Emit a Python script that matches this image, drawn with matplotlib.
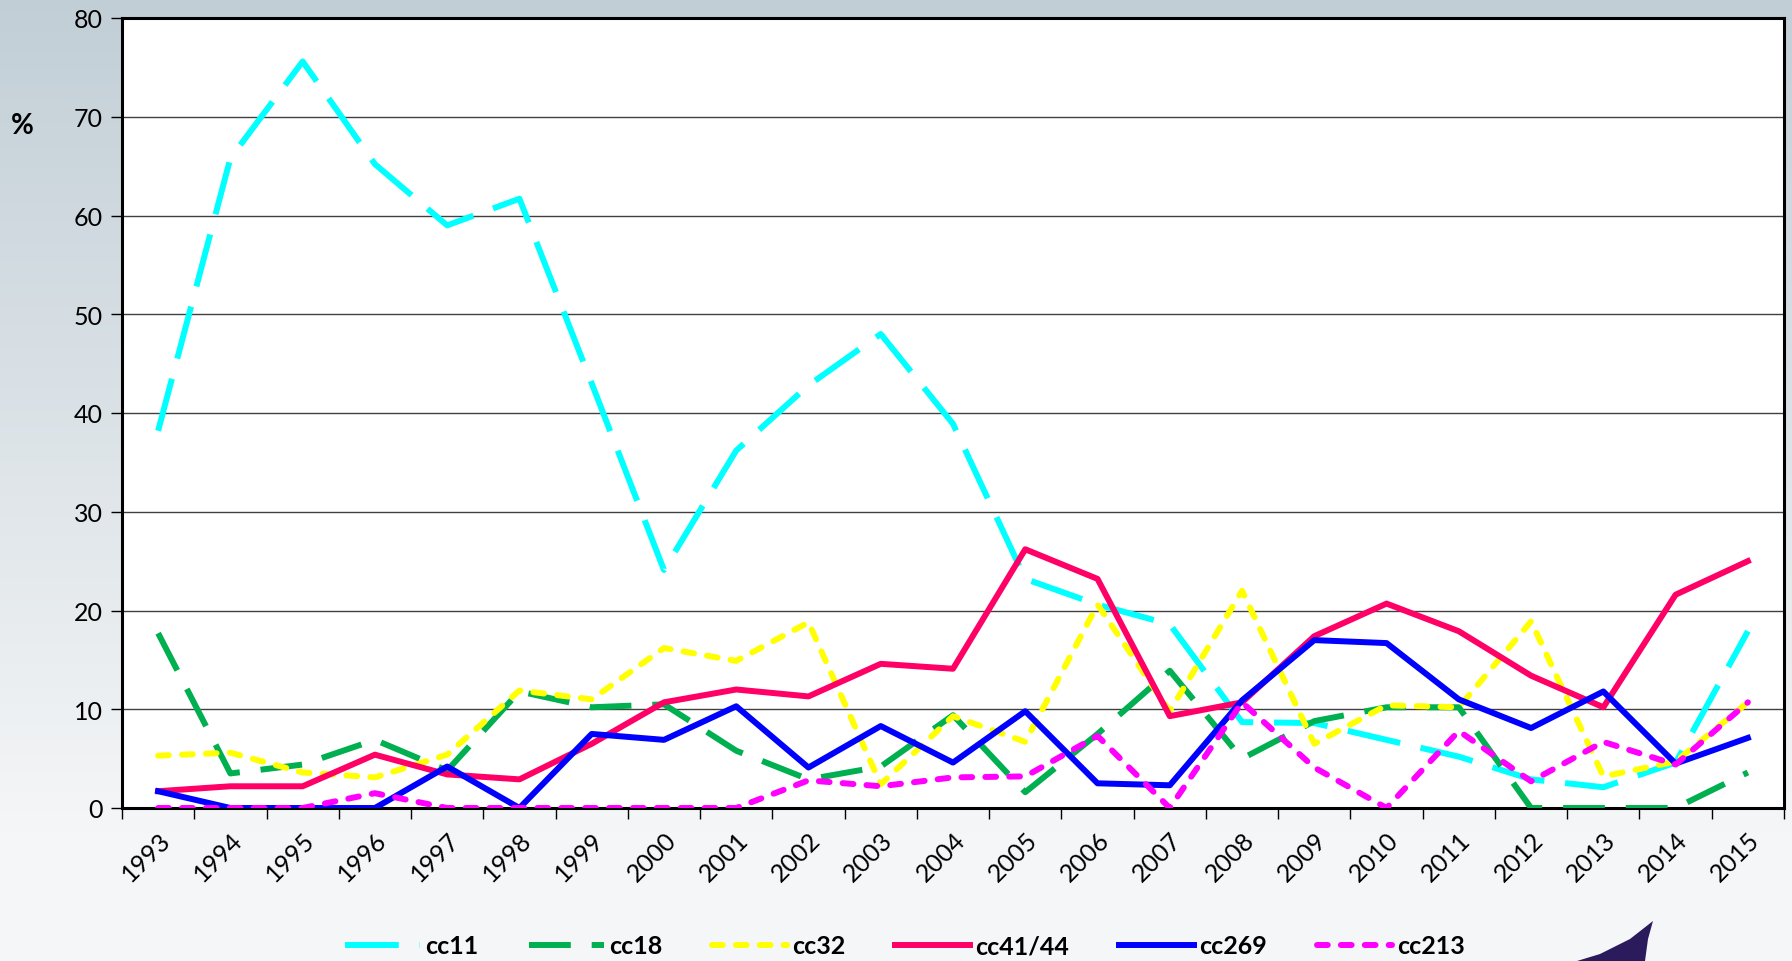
import numpy as np
import matplotlib.pyplot as plt
from matplotlib.patches import Polygon

years = [str(y) for y in range(1993, 2016)]

cc11 = [38.2, 65.8, 75.6, 65.2, 59.0, 61.7, 43.0, 24.1, 36.2, 42.8, 48.0, 38.9,
        23.2, 20.6, 18.6, 8.7, 8.6, 6.9, 5.2, 2.9, 2.1, 4.6, 17.9]
cc18 = [17.7, 3.5, 4.4, 6.9, 3.8, 11.8, 10.2, 10.5, 5.8, 2.9, 4.2, 9.4,
        1.6, 7.5, 13.9, 5.0, 8.8, 10.2, 10.2, 0, 0, 0, 3.6]
cc32 = [5.3, 5.6, 3.6, 3.1, 5.4, 11.9, 11.0, 16.2, 14.9, 18.8, 2.4, 9.3,
        6.7, 20.6, 9.8, 22.0, 6.5, 10.4, 10.2, 18.9, 3.2, 4.7, 10.7]
cc41_44 = [1.7, 2.2, 2.2, 5.4, 3.4, 2.9, 6.5, 10.7, 12.0, 11.3, 14.6, 14.1,
           26.2, 23.2, 9.3, 10.7, 17.4, 20.7, 17.9, 13.4, 10.2, 21.6, 25.0]
cc269 = [1.7, 0, 0, 0, 4.2, 0, 7.5, 6.9, 10.3, 4.1, 8.3, 4.6,
         9.8, 2.5, 2.3, 10.9, 17.0, 16.7, 11.0, 8.1, 11.8, 4.5, 7.1]
cc213 = [0, 0, 0, 1.5, 0, 0, 0, 0, 0, 2.8, 2.2, 3.1,
         3.2, 7.3, 0, 10.7, 4.1, 0, 7.8, 2.7, 6.7, 4.4, 10.7]

plt.rcParams['font.family'] = ['Lato', 'DejaVu Sans']

W, H = 1792, 962
fig = plt.figure(figsize=(W / 100, H / 100), dpi=100)

# background gradient
bg = fig.add_axes([0, 0, 1, 1], zorder=-10)
grad = np.linspace(0, 1, 256).reshape(-1, 1)
top = np.array([0.76, 0.81, 0.84])
bot = np.array([0.96, 0.965, 0.97])
img = top + (bot - top) * np.clip(grad * 1.15, 0, 1)[:, :, None]
bg.imshow(np.repeat(img, 2, axis=1), aspect='auto', extent=[0, 1, 0, 1])
bg.axis('off')

ax = fig.add_axes([122 / W, 1 - 809 / H, (1784 - 122) / W, (809 - 19) / H])
ax.set_facecolor('white')

x = np.arange(len(years))
lw = 4.3
ax.plot(x, cc11, color='#00ffff', lw=lw, dashes=(9, 3.5), label='cc11', zorder=3)
ax.plot(x, cc18, color='#00b050', lw=lw, dashes=(7, 3.5), label='cc18', zorder=3)
ax.plot(x, cc32, color='#ffff00', lw=lw, dashes=(1.8, 2.2), dash_capstyle='round',
        label='cc32', zorder=3)
ax.plot(x, cc41_44, color='#ff0066', lw=lw, label='cc41/44', zorder=3)
ax.plot(x, cc269, color='#0000ff', lw=lw, label='cc269', zorder=3)
ax.plot(x, cc213, color='#ff00ff', lw=lw, dashes=(1.8, 2.2), dash_capstyle='round',
        label='cc213', zorder=3)

ax.set_xlim(-0.5, len(years) - 0.5)
ax.set_ylim(0, 80)
ax.set_yticks(range(0, 81, 10))
ax.yaxis.grid(True, color='#404040', lw=1)
ax.set_axisbelow(True)
ax.tick_params(axis='y', labelsize=18, length=8, width=1, pad=6)

ax.set_xticks(np.arange(-0.5, len(years)), labels=[])
ax.set_xticks(x, minor=True)
ax.set_xticklabels(years, minor=True, rotation=45, ha='right', va='top',
                   rotation_mode='anchor', fontsize=18)
ax.tick_params(axis='x', which='major', length=8, width=1, direction='out')
ax.tick_params(axis='x', which='minor', length=0, pad=14)

for s in ax.spines.values():
    s.set_linewidth(2.2)
    s.set_color('black')

fig.text(22 / W, 1 - 126 / H, '%', fontsize=20, fontweight='bold',
         ha='center', va='center')

leg = fig.legend(loc='center', bbox_to_anchor=(905 / W, 1 - 947 / H), ncol=6,
                 frameon=False, handlelength=3.0, handletextpad=0.2,
                 columnspacing=2.0, prop={'weight': 'bold', 'size': 18})

# decorative wedge at bottom right
wedge = Polygon([(1653 / W, 1 - 922 / H), (1630 / W, 1 - 940 / H), (1600 / W, 1 - 955 / H),
                 (1577 / W, 0), (1645 / W, 0), (1648 / W, 1 - 940 / H)],
                closed=True, transform=fig.transFigure, facecolor='#2b1a5c',
                edgecolor='none')
fig.patches.append(wedge)

plt.savefig('out.png', dpi=100)
